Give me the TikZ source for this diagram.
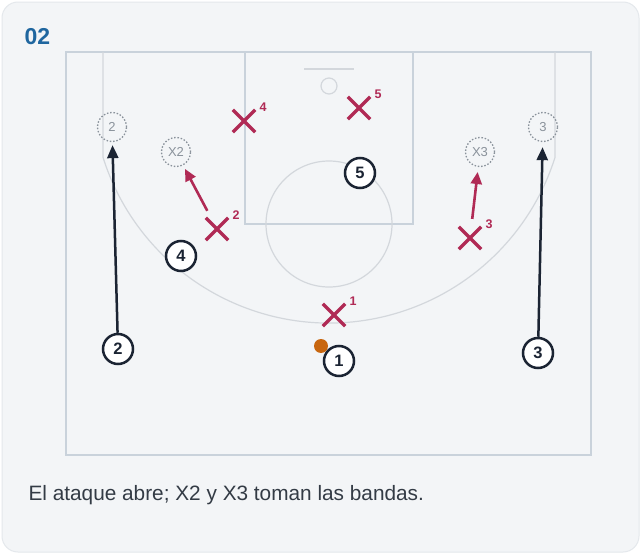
\documentclass[tikz,border=0pt]{standalone}
\usepackage{fontspec}
\setmainfont{Liberation Sans}
\usepackage{xcolor}
\usepackage{tikz}
\usetikzlibrary{arrows.meta,shapes.misc}

\definecolor{cardbg}{HTML}{F3F5F7}
\definecolor{cardline}{HTML}{E4E8EC}
\definecolor{courtline}{HTML}{C9D2DB}
\definecolor{arcline}{HTML}{D3D7DC}
\definecolor{navy}{HTML}{1B2433}
\definecolor{crimson}{HTML}{B02A55}
\definecolor{ghostgray}{HTML}{8A929B}
\definecolor{ballorange}{HTML}{C8660F}
\definecolor{titleblue}{HTML}{1F669F}
\definecolor{captiongray}{HTML}{333B45}

\tikzset{
  court/.style={draw=courtline,line width=1.3pt},
  arcline/.style={draw=arcline,line width=1.2pt},
  offense/.style={circle,draw=navy,line width=2.5pt,fill=white,minimum size=30pt,inner sep=0pt,
    text=navy,font=\bfseries\fontsize{16.5}{16.5}\selectfont},
  ghost/.style={circle,draw=ghostgray,line width=1.3pt,dash pattern=on 1.5pt off 1.8pt,
    minimum size=29pt,inner sep=0pt,text=ghostgray,font=\fontsize{13}{13}\selectfont},
  defense/.style={cross out,draw=crimson,line width=3.3pt,minimum size=19pt,inner sep=0pt},
  defnum/.style={text=crimson,inner sep=0pt,anchor=center,xshift=8pt,yshift=2.5pt,
    font=\bfseries\fontsize{12.5}{12.5}\selectfont},
  offarrow/.style={draw=navy,line width=2.5pt,-{Triangle[length=13pt,width=11pt]},shorten >=3pt},
  defarrow/.style={draw=crimson,line width=2.6pt,-{Triangle[length=12pt,width=11pt]},
    shorten <=8pt,shorten >=4pt},
  ball/.style={circle,fill=ballorange,minimum size=14pt,inner sep=0pt}
}

\begin{document}
\begin{tikzpicture}[x=1pt,y=-1pt]
  \useasboundingbox (0,0) rectangle (641,554);
  \fill[white] (0,0) rectangle (641,554);
  \draw[cardline,fill=cardbg,line width=1pt,rounded corners=16pt] (2,2) rectangle (639,552);

  % court
  \draw[court] (66,52) rectangle (591,455);
  \draw[court] (245,52) rectangle (413,224);
  \draw[arcline] (304,69) -- (354,69);
  \draw[arcline] (329,86) circle (8);
  \draw[arcline] (329,224) circle (63);
  \draw[arcline] (103,52) -- (103,157.3) arc[start angle=162.5,end angle=17.5,radius=237] -- (555,52);

  \node[text=titleblue,font=\bfseries\fontsize{23}{23}\selectfont] (title) at (37.5,37) {02};

  % spots taken after the move
  \node[ghost] (g2) at (112,127) {2};
  \node[ghost] (g3) at (543,127) {3};
  \node[ghost] (gx2) at (176,152) {X2};
  \node[ghost] (gx3) at (480,152) {X3};

  % defense
  \node[defense,label={[defnum]north east:1}] (x1) at (334,315) {};
  \node[defense,label={[defnum]north east:2}] (x2) at (217,229) {};
  \node[defense,label={[defnum]north east:3}] (x3) at (470,238) {};
  \node[defense,label={[defnum]north east:4}] (x4) at (244,121) {};
  \node[defense,label={[defnum]north east:5}] (x5) at (359,108) {};

  % offense
  \node[offense] (p1) at (339,361) {1};
  \node[offense] (p2) at (118,349) {2};
  \node[offense] (p3) at (538,353) {3};
  \node[offense] (p4) at (181,256) {4};
  \node[offense] (p5) at (360,173) {5};
  \node[ball] (b) at (321,346) {};

  \draw[offarrow] (p2) -- (g2);
  \draw[offarrow,shorten >=5pt] (p3) -- (g3);
  \draw[defarrow] (x2) -- (gx2);
  \draw[defarrow,shorten >=5pt] (x3) -- (gx3);

  \node[anchor=base west,text=captiongray,font=\fontsize{20.8}{20.8}\selectfont] (caption) at (25,500)
    {El ataque abre; X2 y X3 toman las bandas.};
\end{tikzpicture}
\end{document}
